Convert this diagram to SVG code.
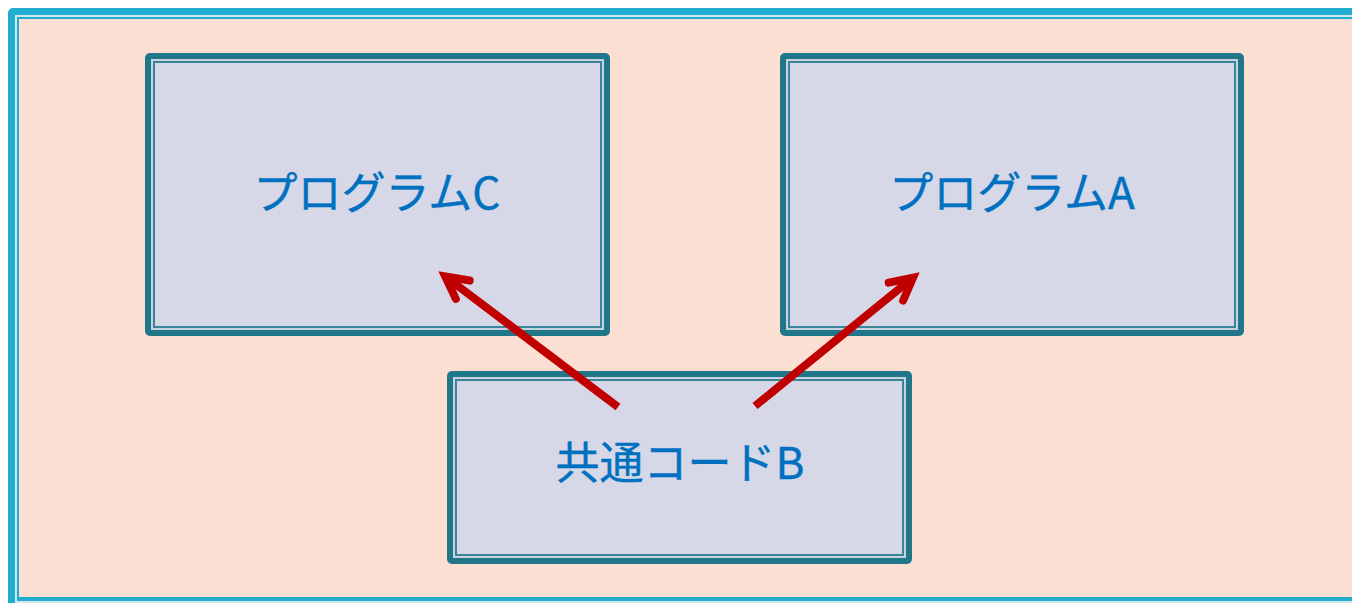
<svg xmlns="http://www.w3.org/2000/svg" width="1352" height="603" viewBox="0 0 1352 603">
  <style>
    .frame-outer { fill: #20AED0; }
    .frame-gap { fill: #D4E4EC; }
    .frame-inner { fill: #20AED0; }
    .frame-fill { fill: #FADFD2; }
    .node-outer { fill: #20778A; }
    .node-gap { fill: #C9D3E0; }
    .node-inner { fill: #3A8597; }
    .node-fill { fill: #D6D8E7; }
    .label { font-family: "Noto Sans CJK JP", "Noto Sans", sans-serif; font-size: 44px; font-weight: normal; fill: #0070C0; text-anchor: middle; stroke: #0070C0; stroke-width: 0.4; }
    .conn { stroke: #C00000; stroke-width: 8; fill: none; }
  </style>
  <defs>
    <marker id="arrow" markerUnits="userSpaceOnUse" orient="auto" refX="0" refY="0" markerWidth="60" markerHeight="60" viewBox="-40 -30 60 60" overflow="visible">
      <path d="M -22,-11.5 L 0,0 L -22,11.5" fill="none" stroke="#C00000" stroke-width="8" stroke-linecap="round" stroke-linejoin="miter" stroke-miterlimit="10"/>
    </marker>
  </defs>
  <rect width="1352" height="603" fill="#FFFFFF"/>
  <g id="frame">
    <rect class="frame-outer" x="8" y="8" width="1400" height="640" rx="5"/>
    <rect class="frame-gap" x="15" y="15" width="1400" height="640"/>
    <rect class="frame-inner" x="17" y="17" width="1400" height="584"/>
    <rect class="frame-fill" x="19" y="19" width="1400" height="578"/>
  </g>
  <g id="node-c">
    <rect class="node-outer" x="145" y="53" width="465" height="283" rx="5"/>
    <rect class="node-gap" x="151" y="59" width="453" height="271"/>
    <rect class="node-inner" x="153" y="61" width="449" height="267"/>
    <rect class="node-fill" x="155" y="63" width="445" height="263"/>
    <text class="label" x="377" y="209">プログラムC</text>
  </g>
  <g id="node-a">
    <rect class="node-outer" x="780" y="53" width="464" height="283" rx="5"/>
    <rect class="node-gap" x="786" y="59" width="452" height="271"/>
    <rect class="node-inner" x="788" y="61" width="448" height="267"/>
    <rect class="node-fill" x="790" y="63" width="444" height="263"/>
    <text class="label" x="1012" y="209">プログラムA</text>
  </g>
  <g id="node-b">
    <rect class="node-outer" x="447" y="371" width="465" height="193" rx="5"/>
    <rect class="node-gap" x="453" y="377" width="453" height="181"/>
    <rect class="node-inner" x="455" y="379" width="449" height="177"/>
    <rect class="node-fill" x="457" y="381" width="445" height="173"/>
    <text class="label" x="680" y="479">共通コードB</text>
  </g>
  <g id="connectors">
    <line class="conn" x1="618" y1="407" x2="445.2" y2="276.4" marker-end="url(#arrow)"/>
    <line class="conn" x1="755" y1="406" x2="913" y2="277.7" marker-end="url(#arrow)"/>
  </g>
</svg>
